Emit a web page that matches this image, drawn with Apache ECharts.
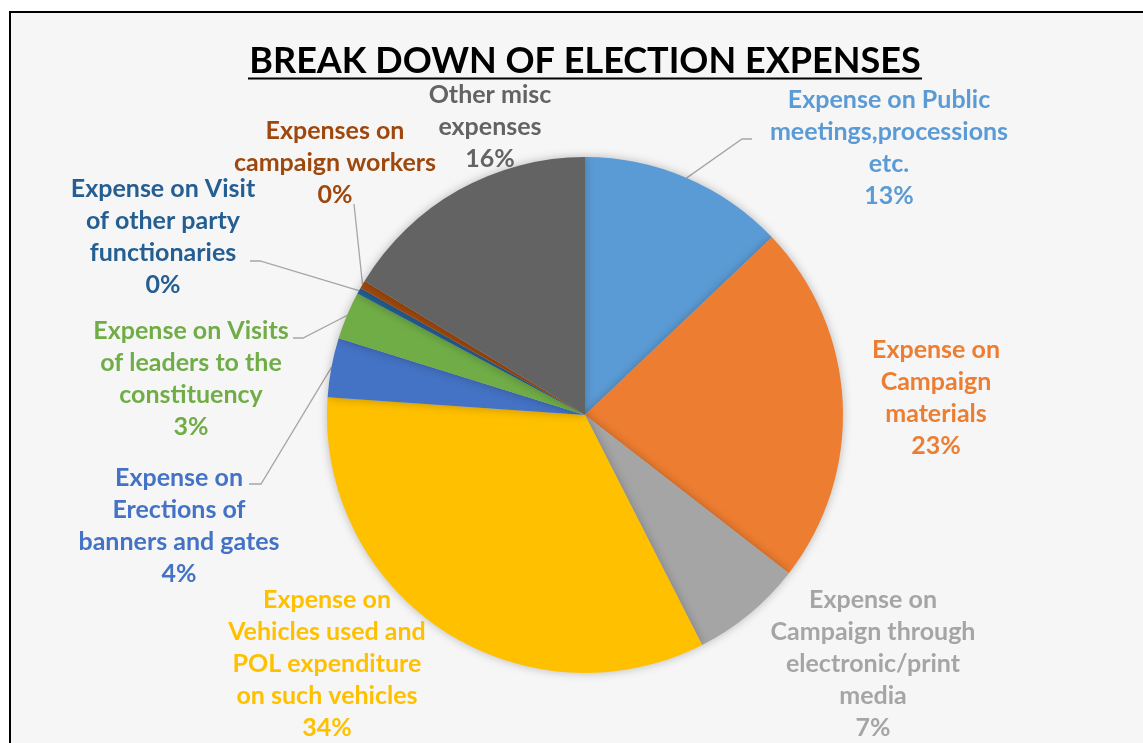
<!DOCTYPE html>
<html>
<head>
<meta charset="utf-8">
<script src="https://cdn.jsdelivr.net/npm/echarts@6/dist/echarts.min.js"></script>
<style>
  html, body { margin: 0; padding: 0; background: #fff; overflow: hidden; }
  #chart { width: 1143px; height: 743px; }
</style>
</head>
<body>
<div id="chart"></div>
<script>
// slice names (line breaks as in the original labels)
const categories = [
  'Expense on Public\nmeetings,processions\netc.',
  'Expense on\nCampaign\nmaterials',
  'Expense on\nCampaign through\nelectronic/print\nmedia',
  'Expense on\nVehicles used and\nPOL expenditure\non such vehicles',
  'Expense on\nErections of\nbanners and gates',
  'Expense on Visits\nof leaders to the\nconstituency',
  'Expense on Visit\nof other party\nfunctionaries',
  'Expenses on\ncampaign workers',
  'Other misc\nexpenses'
]
// share of total
const values = [12.9, 22.6, 7.0, 33.6, 3.7, 3.0, 0.4, 0.5, 16.3]
const colors = ['#5B9BD5', '#ED7D31', '#A5A5A5', '#FFC000', '#4472C4', '#70AD47', '#255E91', '#9E480E', '#636363']

// label block centres
const labelPos = [
  [889, 148], [936, 398], [873, 664], [327, 664], [179, 526],
  [191, 379], [163, 237], [335, 163], [490, 127]
]
// leader line: [elbow, end] near the label, null = no line
const leaderEnds = [
  [[742, 139], [752, 139]],
  null, null, null,
  [[261, 484], [249, 484]],
  [[303, 338], [293, 338]],
  [[260, 261], [250, 261]],
  [[354, 204], [354, 204]],
  null
]

const CX = 585, CY = 415, R = 258
const total = values.reduce((a, b) => a + b, 0)

// point on the rim at the middle of slice i
function rimPoint(i) {
  let before = 0
  for (let k = 0; k < i; k++) before += values[k]
  const a = (before + values[i] / 2) / total * Math.PI * 2
  return [CX + R * Math.sin(a), CY - R * Math.cos(a)]
}

const chart = echarts.init(document.getElementById('chart'))
const FONT = 'Lato'

const option = {
  animation: false,
  backgroundColor: '#ffffff',
  graphic: [
    {
      type: 'rect',
      z: -10,
      shape: { x: 10, y: 12, width: 1300, height: 900 },
      style: { fill: '#f6f6f6', stroke: '#000', lineWidth: 2 }
    },
    {
      type: 'text',
      z: 10,
      x: 585,
      y: 61,
      style: {
        text: 'BREAK DOWN OF ELECTION EXPENSES',
        font: 'bold 36px ' + FONT,
        fill: '#000',
        align: 'center',
        verticalAlign: 'middle'
      }
    },
    {
      type: 'line',
      z: 10,
      shape: { x1: 248, y1: 78.5, x2: 922, y2: 78.5 },
      style: { stroke: '#000', lineWidth: 2.2 }
    }
  ],
  series: [{
    type: 'pie',
    center: [CX, CY],
    radius: R,
    startAngle: 90,
    clockwise: true,
    percentPrecision: 0,
    avoidLabelOverlap: false,
    itemStyle: {
      borderWidth: 0,
      shadowBlur: 10,
      shadowColor: 'rgba(0,0,0,0.25)'
    },
    label: {
      show: true,
      formatter: '{b}\n{d}%',
      fontFamily: FONT,
      fontWeight: 'bold',
      fontSize: 25,
      lineHeight: 32,
      align: 'center'
    },
    labelLine: {
      lineStyle: { color: '#a6a6a6', width: 1.3 }
    },
    labelLayout: function (p) {
      const i = p.dataIndex
      const pos = labelPos[i]
      const out = { x: pos[0], y: pos[1], align: 'center', verticalAlign: 'middle' }
      if (leaderEnds[i]) {
        out.labelLinePoints = [rimPoint(i), leaderEnds[i][0], leaderEnds[i][1]]
      }
      return out
    },
    emphasis: { disabled: true },
    data: categories.map((name, i) => ({
      name: name,
      value: values[i],
      itemStyle: { color: colors[i] },
      label: { color: colors[i] },
      labelLine: { show: !!leaderEnds[i] }
    }))
  }]
}

chart.setOption(option)
</script>
</body>
</html>
